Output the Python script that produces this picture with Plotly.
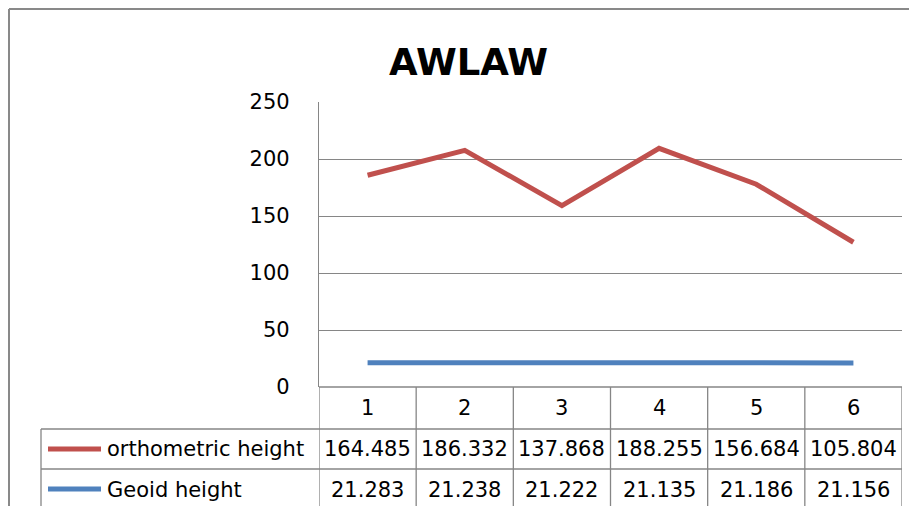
import plotly.graph_objects as go

# ---- data ----
categories = [1, 2, 3, 4, 5, 6]
series_names = ["orthometric height", "Geoid height"]
ortho_height = [164.485, 186.332, 137.868, 188.255, 156.684, 105.804]
geoid_height = [21.283, 21.238, 21.222, 21.135, 21.186, 21.156]
y_ticks = [0, 50, 100, 150, 200, 250]
title_text = "AWLAW"

W, H = 917, 506
OFF = 8  # page body margin offset
RED = "#C0504D"
BLUE = "#4F81BD"
GRID = "#868686"
FONT = "DejaVu Sans"

def px(x):
    return (x - OFF) / W

def py(y):
    return 1 - (y - OFF) / H

# stacked line (Excel stacked-line chart)
stacked_ortho = [o + g for o, g in zip(ortho_height, geoid_height)]

fig = go.Figure()
fig.add_trace(go.Scatter(x=categories, y=geoid_height, mode="lines",
                         line=dict(color=BLUE, width=5), name=series_names[1]))
fig.add_trace(go.Scatter(x=categories, y=stacked_ortho, mode="lines",
                         line=dict(color=RED, width=5), name=series_names[0]))

plot_l, plot_r, plot_t, plot_b = 319, 902, 102, 387

fig.update_layout(
    width=W, height=H, autosize=False,
    margin=dict(l=0, r=0, t=0, b=0, pad=0),
    paper_bgcolor="white", plot_bgcolor="white",
    showlegend=False,
    font=dict(family=FONT, color="black"),
    xaxis=dict(domain=[px(plot_l), px(plot_r)], range=[0.5, 6.5], automargin=False,
               showgrid=False, showticklabels=False, zeroline=False,
               showline=False, fixedrange=True),
    yaxis=dict(domain=[py(plot_b), py(plot_t)], range=[0, 250], automargin=False,
               tickvals=y_ticks, ticktext=[str(v) for v in y_ticks],
               showgrid=True, gridcolor=GRID, gridwidth=1.3,
               zeroline=False, showline=True, linecolor=GRID, linewidth=1.3,
               ticks="", ticklabelstandoff=24,
               tickfont=dict(family=FONT, size=21, color="black"),
               fixedrange=True),
)

shapes = []
def hline(x0, x1, y, xref="paper", color=GRID, width=1.3):
    shapes.append(dict(type="line", xref=xref, yref="paper",
                       x0=x0, x1=x1, y0=py(y), y1=py(y),
                       line=dict(color=color, width=width)))

def vline(x, y0, y1, xref="paper", color=GRID, width=1.3):
    shapes.append(dict(type="line", xref=xref, yref="paper",
                       x0=x, x1=x, y0=py(y0), y1=py(y1),
                       line=dict(color=color, width=width)))

# chart border (right/bottom edges lie outside the view)
hline(1 / W, 1.0, 9, color="#898989", width=2)
vline(1 / W, 9, 530, color="#898989", width=2)

# data table grid
row_top, row1, row2, row_bot = 387, 429, 469, 530
hline(px(plot_l), px(plot_r), row_top)
hline(px(41), px(plot_r), row1)
hline(px(41), px(plot_r), row2)
vline(px(41), row1, row_bot)
for k in range(len(categories) + 1):
    vline(0.5 + k, row_top, row_bot, xref="x")

# legend keys in the table
for name, color, yc in [(series_names[0], RED, 449), (series_names[1], BLUE, 489)]:
    shapes.append(dict(type="line", xref="paper", yref="paper",
                       x0=px(48), x1=px(101), y0=py(yc), y1=py(yc),
                       line=dict(color=color, width=5)))

annotations = []
annotations.append(dict(text=f"<b>{title_text}</b>", xref="paper", yref="paper",
                        x=px(469), y=py(62), xanchor="center", yanchor="middle",
                        showarrow=False, font=dict(family=FONT, size=37, color="black")))

cell_font = dict(family=FONT, size=21, color="black")
for c in categories:
    annotations.append(dict(text=str(c), xref="x", yref="paper", x=c, y=py(408),
                            xanchor="center", yanchor="middle", showarrow=False,
                            font=cell_font))
for name, vals, yc in [(series_names[0], ortho_height, 449),
                       (series_names[1], geoid_height, 490)]:
    annotations.append(dict(text=name, xref="paper", yref="paper", x=px(105), y=py(yc),
                            xanchor="left", yanchor="middle", showarrow=False,
                            font=cell_font))
    for c, v in zip(categories, vals):
        annotations.append(dict(text=f"{v:.3f}", xref="x", yref="paper", x=c, y=py(yc),
                                xanchor="center", yanchor="middle", showarrow=False,
                                font=cell_font))

fig.update_layout(shapes=shapes, annotations=annotations)
fig.write_html("out.html")
